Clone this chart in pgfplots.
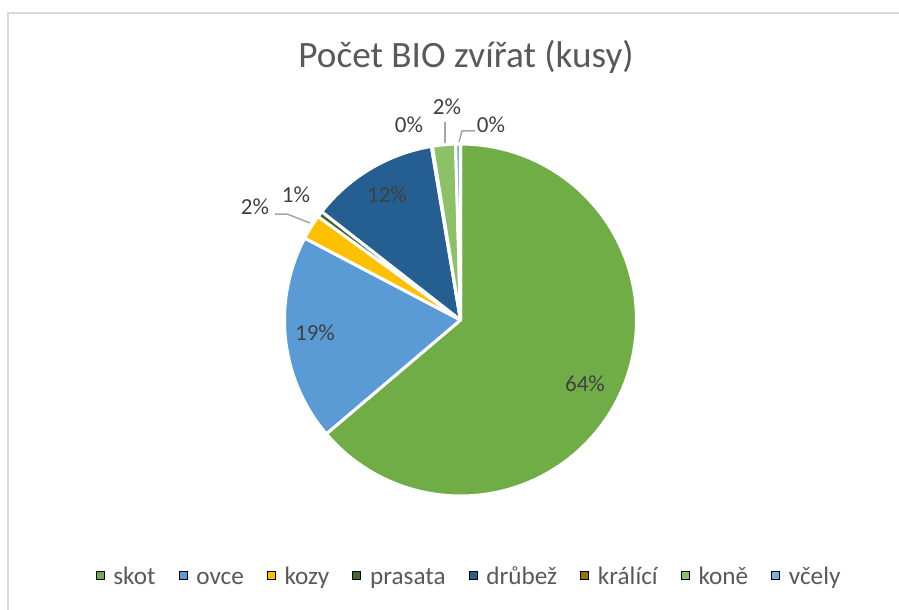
\documentclass[border=0pt]{standalone}
\usepackage{pgfplots}
\pgfplotsset{compat=1.18}
\usepackage{pgfplotstable}
\usepackage{fontspec}
\setmainfont{Carlito}

\definecolor{pie0}{HTML}{70AD47}
\definecolor{pie1}{HTML}{5B9BD5}
\definecolor{pie2}{HTML}{FFC000}
\definecolor{pie3}{HTML}{43682B}
\definecolor{pie4}{HTML}{255E91}
\definecolor{pie5}{HTML}{997300}
\definecolor{pie6}{HTML}{8CC168}
\definecolor{pie7}{HTML}{7CAFDD}
\definecolor{txtgray}{HTML}{595959}
\definecolor{lblgray}{HTML}{404040}
\definecolor{leadgray}{HTML}{A6A6A6}
\definecolor{framegray}{HTML}{D9D9D9}

% share of each kind (per cent), clockwise from 12 o'clock
\pgfplotstableread{
name     value
skot     63.8
ovce     18.9
kozy     2.3
prasata  0.55
drubez   11.8
kralici  0.1
kone     2.1
vcely    0.45
}\datatable

\begin{document}
\begin{tikzpicture}
\begin{scope}[x=0.5pt,y=-0.5pt]
  \useasboundingbox (0,0) rectangle (899,610);
  \draw[framegray, line width=0.75pt] (8,610) -- (8,13) -- (899,13);
  \node[font=\fontsize{18.6}{22}\selectfont, text=txtgray] at (466,57) {Počet BIO zvířat (kusy)};
\end{scope}

\begin{axis}[
  x=88pt, y=88pt,
  xmin=-1, xmax=1, ymin=-1, ymax=1,
  hide axis, clip=false,
  at={(230.25pt,-160pt)}, anchor=center,
  legend columns=-1,
  legend image code/.code={\fill[#1] (0pt,-0.5pt) rectangle (4pt,3.5pt);},
  legend style={
    at={(0.527,-0.235)}, anchor=center,
    draw=none, fill=none,
    font=\fontsize{12.6}{14}\selectfont, text=txtgray,
    nodes={text height=1.6ex, text depth=0.45ex},
    /tikz/every odd column/.append style={column sep=2.5pt},
    /tikz/every even column/.append style={column sep=9.5pt},
  },
]
\pgfmathsetmacro{\cum}{0}
\pgfplotsforeachungrouped \i in {0,...,7}{%
  \pgfplotstablegetelem{\i}{value}\of\datatable
  \let\v\pgfplotsretval
  \pgfmathsetmacro{\a}{3.6*\cum}%
  \pgfmathsetmacro{\b}{3.6*(\cum+\v)}%
  \edef\cmd{\noexpand\addplot[fill=pie\i, draw=white, line width=1.5pt, line join=round, domain=\a:\b, samples=90, forget plot] ({sin(x)},{cos(x)}) -- (axis cs:0,0) -- cycle;}%
  \cmd
  \pgfmathsetmacro{\cum}{\cum+\v}%
}
\addlegendimage{fill=pie0}\addlegendentry{skot}
\addlegendimage{fill=pie1}\addlegendentry{ovce}
\addlegendimage{fill=pie2}\addlegendentry{kozy}
\addlegendimage{fill=pie3}\addlegendentry{prasata}
\addlegendimage{fill=pie4}\addlegendentry{drůbež}
\addlegendimage{fill=pie5}\addlegendentry{králící}
\addlegendimage{fill=pie6}\addlegendentry{koně}
\addlegendimage{fill=pie7}\addlegendentry{včely}
\end{axis}

\begin{scope}[x=0.5pt,y=-0.5pt, every node/.style={font=\fontsize{11.5}{14}\selectfont, text=lblgray}]
  \draw[leadgray, line width=0.75pt] (275,214) -- (287,214) -- (310,223);
  \draw[leadgray, line width=0.75pt] (445,122) -- (445,143);
  \draw[leadgray, line width=0.75pt] (475,131) -- (462,131) -- (459,142);
  \node at (585,384) {64\%};
  \node at (315,333) {19\%};
  \node at (387,195) {12\%};
  \node at (255,207) {2\%};
  \node at (296,195) {1\%};
  \node at (409,125) {0\%};
  \node at (447,107) {2\%};
  \node at (491,125) {0\%};
\end{scope}
\end{tikzpicture}
\end{document}
